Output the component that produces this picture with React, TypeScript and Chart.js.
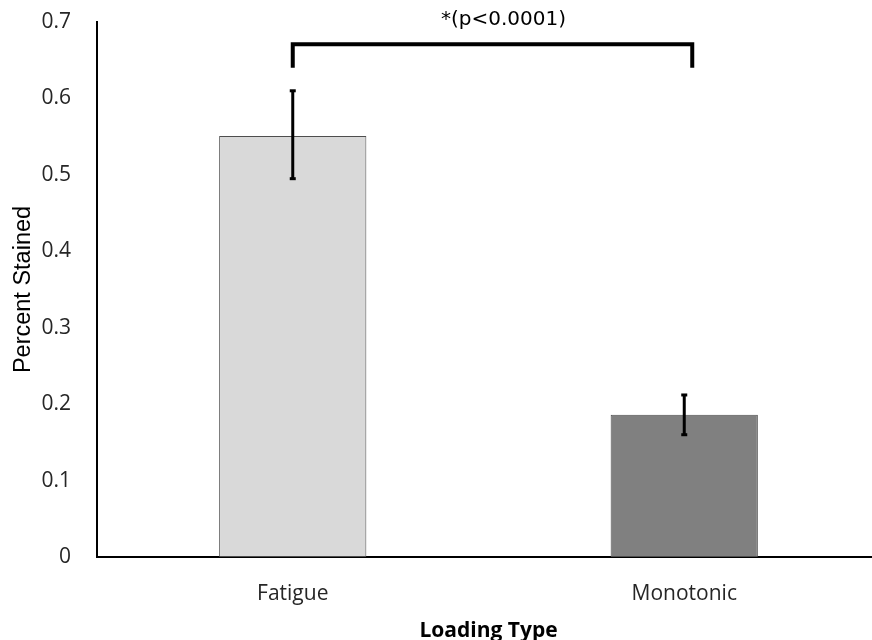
import React, { useEffect, useRef } from "react";
import { Chart, registerables } from "chart.js";

Chart.register(...registerables);

const categories = ["Fatigue", "Monotonic"];
const means = [0.551, 0.186];
const errUpper = [0.610, 0.212];
const errLower = [0.495, 0.160];
const barColors = ["#d9d9d9", "#808080"];
const yTicks = [0, 0.1, 0.2, 0.3, 0.4, 0.5, 0.6, 0.7];
const bracketTop = 0.671;
const bracketEnd = 0.640;
const sigLabel = "*(p<0.0001)";

const overlayPlugin = {
  id: "overlay",
  afterDatasetsDraw(chart: any) {
    const ctx = chart.ctx;
    const x = chart.scales.x;
    const y = chart.scales.y;
    ctx.save();
    ctx.strokeStyle = "#000";
    ctx.fillStyle = "#000";
    // error bars
    categories.forEach((_, i) => {
      const cx = x.getPixelForValue(i);
      const yt = y.getPixelForValue(errUpper[i]);
      const yb = y.getPixelForValue(errLower[i]);
      ctx.lineWidth = 3;
      ctx.beginPath();
      ctx.moveTo(cx, yt);
      ctx.lineTo(cx, yb);
      ctx.stroke();
      ctx.fillRect(cx - 3, yt - 1.5, 6, 3);
      ctx.fillRect(cx - 3, yb - 1.5, 6, 3);
    });
    // significance bracket
    const x0 = x.getPixelForValue(0);
    const x1 = x.getPixelForValue(1) + 8;
    const yb = y.getPixelForValue(bracketTop);
    const ye = y.getPixelForValue(bracketEnd);
    ctx.lineWidth = 4;
    ctx.lineJoin = "miter";
    ctx.beginPath();
    ctx.moveTo(x0, ye);
    ctx.lineTo(x0, yb);
    ctx.lineTo(x1, yb);
    ctx.lineTo(x1, ye);
    ctx.stroke();
    ctx.font = "20px 'DejaVu Sans'";
    ctx.textAlign = "center";
    ctx.textBaseline = "middle";
    ctx.fillStyle = "#000";
    ctx.fillText(sigLabel, (x0 + x1) / 2 + 11, 20);
    ctx.restore();
  },
};

export default function App() {
  const ref = useRef<HTMLCanvasElement>(null);
  useEffect(() => {
    if (!ref.current) return;
    const chart = new Chart(ref.current, {
      type: "bar",
      data: {
        labels: categories,
        datasets: [
          {
            data: means,
            backgroundColor: barColors,
            borderColor: "#4d4d4d",
            borderWidth: 1,
            borderSkipped: false,
            barPercentage: 0.376,
            categoryPercentage: 1,
          },
        ],
      },
      options: {
        animation: false,
        responsive: false,
        maintainAspectRatio: false,
        layout: { padding: { left: 0, right: 0, top: 22, bottom: 0 } },
        plugins: { legend: { display: false }, tooltip: { enabled: false } },
        scales: {
          x: {
            grid: { display: false, drawTicks: false },
            border: { display: true, color: "#000", width: 2 },
            ticks: {
              color: "#262626",
              font: { family: "'Open Sans'", size: 21 },
              padding: 24,
            },
            title: {
              display: true,
              text: "Loading Type",
              color: "#000",
              font: { family: "'Open Sans'", size: 21, weight: "bold" },
              padding: { top: 0, bottom: -4 },
            },
            afterFit(scale: any) {
              scale.height = 83;
              scale.paddingLeft = 0;
              scale.paddingRight = 0;
            },
          },
          y: {
            min: 0,
            max: 0.7,
            grid: { display: false, drawTicks: false },
            border: { display: true, color: "#000", width: 2 },
            afterBuildTicks(scale: any) {
              scale.ticks = yTicks.map((v) => ({ value: v }));
            },
            ticks: {
              color: "#262626",
              font: { family: "'Open Sans'", size: 21 },
              padding: 26,
              callback: (v: any) => String(v),
            },
            title: {
              display: true,
              text: "Percent Stained",
              color: "#000",
              font: { family: "'Liberation Sans'", size: 23.5 },
              padding: { top: 9, bottom: 0 },
            },
            afterFit(scale: any) {
              scale.width = 97;
              scale.paddingTop = 0;
              scale.paddingBottom = 0;
            },
          },
        },
      },
      plugins: [overlayPlugin],
    });
    return () => chart.destroy();
  }, []);
  return (
    <div
      style={{
        position: "fixed",
        left: 0,
        top: 0,
        width: 872,
        height: 640,
        overflow: "hidden",
        background: "#fff",
      }}
    >
      <canvas ref={ref} width={880} height={640} style={{ width: 880, height: 640 }} />
    </div>
  );
}
